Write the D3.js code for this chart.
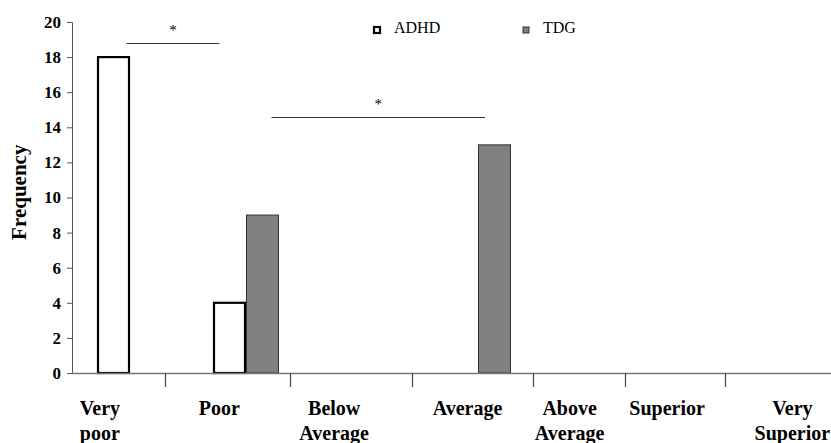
<!DOCTYPE html>
<meta charset="utf-8">
<style>
  body { margin: 0; }
  svg text { font-family: "Times New Roman", "Liberation Serif", serif !important; }
</style>
<body>
<script src="https://cdnjs.cloudflare.com/ajax/libs/d3/7.8.5/d3.min.js"></script>
<script>

// data
var categories = ['Very poor', 'Poor', 'Below Average', 'Average', 'Above Average', 'Superior', 'Very Superior'];
var groups = ['ADHD', 'TDG'];
var adhd = [18, 4, 0, 0, 0, 0, 0];
var tdg = [0, 9, 0, 13, 0, 0, 0];
var yTicks = [0, 2, 4, 6, 8, 10, 12, 14, 16, 18, 20];
// the source figure has its x ticks and labels off the bar groups, kept in category units
var xTickPos = [0.80, 1.88, 2.93, 3.97, 4.77, 5.63];
var labelLines = [['Very', 'poor'], ['Poor'], ['Below', 'Average'], ['Average'], ['Above', 'Average'], ['Superior'], ['Very', 'Superior']];
var labelPos = [0.24, 1.27, 2.26, 3.41, 4.29, 5.13, 6.21];
// significance bars: [from, to] in category units, height in frequency
var sigFrom = [0.47, 1.72];
var sigTo = [1.27, 3.56];
var sigY = [18.8, 14.6];

var serif = '"Times New Roman", serif';
var width = 831, height = 443;
var x0 = 72, step = 116;

var svg = d3.select('body').append('svg').attr('width', width).attr('height', height)
  .attr('font-family', serif);

var y = d3.scaleLinear().domain([0, 20]).range([373, 22]);
var u = d3.scaleLinear().domain([0, categories.length]).range([x0, x0 + step * categories.length]);
var pi = 50 / 116;
var x = d3.scaleBand().domain(categories).range(u.range()).paddingInner(pi).paddingOuter(pi / 2);
var xg = d3.scaleBand().domain(groups).range([0, x.bandwidth()]);

var rows = categories.map(function (c, i) { return { cat: c, ADHD: adhd[i], TDG: tdg[i] }; });

// y axis
var yAxis = d3.axisLeft(y).tickValues(yTicks).tickSize(5).tickPadding(6);
var ya = svg.append('g').attr('transform', 'translate(' + x0 + ',0)').call(yAxis);
ya.attr('font-family', serif).attr('font-size', 17).attr('font-weight', 'bold');
ya.select('.domain').attr('stroke', '#555');
ya.selectAll('.tick line').attr('stroke', '#555');

svg.append('text')
  .attr('transform', 'translate(26,' + y(10.3) + ') rotate(-90)')
  .attr('text-anchor', 'middle')
  .attr('font-size', 21).attr('font-weight', 'bold')
  .text('Frequency');

// bars
var bars = svg.append('g');
rows.forEach(function (r) {
  groups.forEach(function (g) {
    if (r[g] <= 0) return;
    var adh = g === 'ADHD';
    bars.append('rect')
      .attr('x', x(r.cat) + xg(g) + (adh ? 1 : 0.5))
      .attr('y', y(r[g]))
      .attr('width', xg.bandwidth() - (adh ? 2 : 1))
      .attr('height', y(0) - y(r[g]))
      .attr('fill', adh ? '#fff' : '#808080')
      .attr('stroke', adh ? '#000' : '#333')
      .attr('stroke-width', adh ? 2.2 : 1);
  });
});

// x axis
svg.append('line').attr('x1', x0).attr('x2', width).attr('y1', y(0) + 0.5).attr('y2', y(0) + 0.5)
  .attr('stroke', '#777').attr('stroke-width', 1.3);
svg.append('g').selectAll('line').data(xTickPos).enter().append('line')
  .attr('x1', function (d) { return Math.round(u(d)) + 0.5; })
  .attr('x2', function (d) { return Math.round(u(d)) + 0.5; })
  .attr('y1', y(0)).attr('y2', y(0) + 14)
  .attr('stroke', '#444').attr('stroke-width', 1.2);

// category labels, one text per line
labelLines.forEach(function (lines, i) {
  lines.forEach(function (t, j) {
    svg.append('text')
      .attr('x', u(labelPos[i]))
      .attr('y', 415 + j * 25)
      .attr('text-anchor', 'middle')
      .attr('font-size', 20).attr('font-weight', 'bold')
      .text(t);
  });
});

// significance
sigFrom.forEach(function (f, i) {
  svg.append('line')
    .attr('x1', u(f)).attr('x2', u(sigTo[i]))
    .attr('y1', Math.round(y(sigY[i])) + 0.5).attr('y2', Math.round(y(sigY[i])) + 0.5)
    .attr('stroke', '#333').attr('stroke-width', 1);
  svg.append('text')
    .attr('x', (u(f) + u(sigTo[i])) / 2)
    .attr('y', y(sigY[i]) - 8)
    .attr('text-anchor', 'middle')
    .attr('font-size', 15)
    .text('*');
});

// legend
var legX = [373, 522];
groups.forEach(function (g, i) {
  var adh = g === 'ADHD';
  svg.append('rect')
    .attr('x', legX[i] + 1).attr('y', 27)
    .attr('width', 6).attr('height', 6)
    .attr('fill', adh ? '#fff' : '#808080')
    .attr('stroke', adh ? '#000' : '#333')
    .attr('stroke-width', adh ? 2.2 : 1);
  svg.append('text')
    .attr('x', legX[i] + 21).attr('y', 33)
    .attr('font-size', 16)
    .text(g);
});

</script>
</body>
</html>
